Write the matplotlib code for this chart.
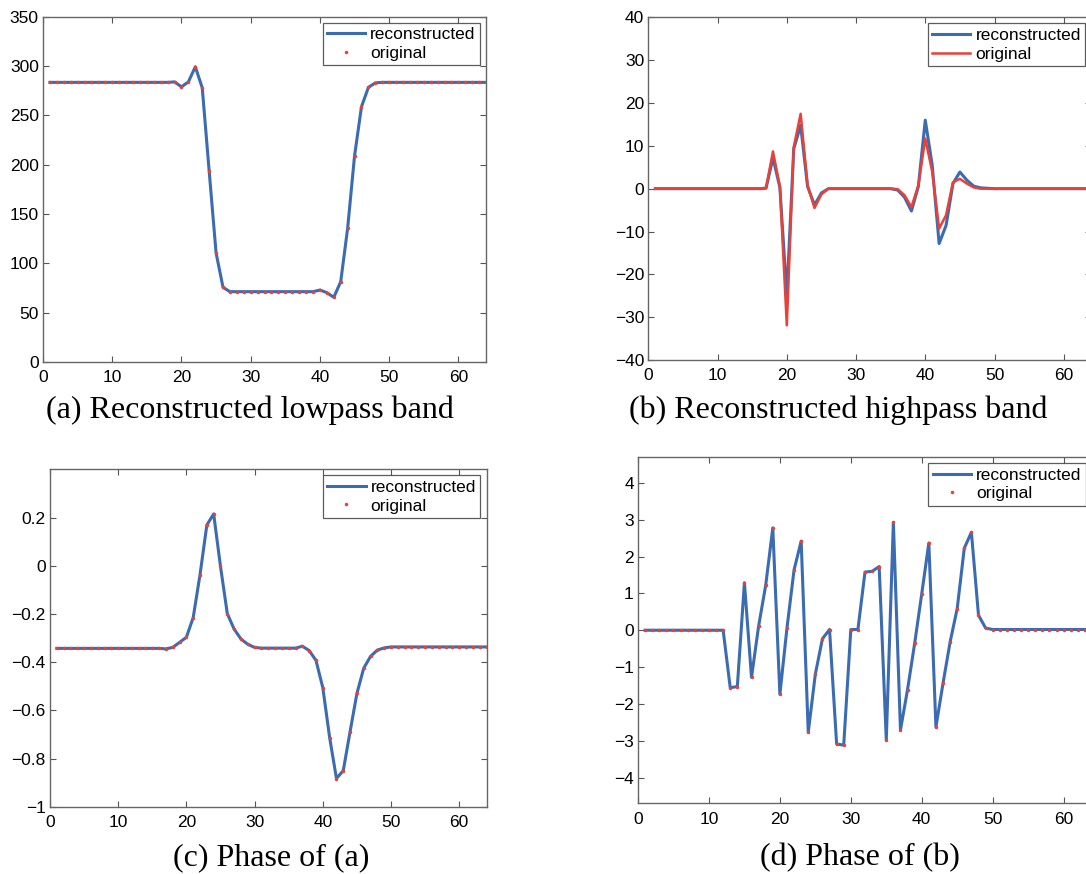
import numpy as np
import matplotlib
matplotlib.use("Agg")
import matplotlib.pyplot as plt

plt.rcParams["font.family"] = ["Liberation Sans", "DejaVu Sans"]

x = np.arange(1, 65)

# (a) lowpass band
low_rec = [283.5]*18 + [284, 279, 284, 299.3, 278, 193.6, 110.5, 75.7, 71.3] + [71.3]*12 + \
          [73, 70.3, 65.6, 81.4, 135.5, 209, 258.8, 278.4, 283] + [283.5]*16
low_orig = list(low_rec)

# (b) highpass band
high_orig = [0]*16 + [0.2, 8.7, 0.5, -31.9, 9.7, 17.5, 0.8, -4.5, -1.3, 0] + [0]*9 + \
            [-0.1, -1.5, -4.3, 0.8, 11.7, 4.0, -9.3, -6.2, 1.5, 2.3, 1.2, 0.3, 0] + [0]*16
high_rec = [0]*16 + [0.1, 7.2, 0.3, -25.0, 9.3, 14.8, 0.5, -3.8, -1.0, 0] + [0]*9 + \
           [-0.3, -2.0, -5.2, 0.5, 16.0, 5.5, -12.8, -8.6, 1.2, 3.9, 2.0, 0.6, 0.2] + [0.1] + [0]*15

# (c) phase of (a)
phase_a = [-0.343]*16 + [-0.345, -0.339, -0.318, -0.297, -0.215, -0.037, 0.169, 0.215,
          -0.003, -0.199, -0.263, -0.304, -0.326, -0.339] + [-0.342]*6 + \
          [-0.334, -0.352, -0.393, -0.506, -0.713, -0.883, -0.85, -0.688, -0.53, -0.425,
           -0.376, -0.35, -0.341] + [-0.337]*15

# (d) phase of (b)
phase_b = [0]*12 + [-1.56, -1.53, 1.29, -1.28, 0.11, 1.22, 2.78, -1.74, 0.06, 1.64, 2.42,
          -2.77, -1.19, -0.23, 0.02, -3.09, -3.12, 0.02, 0.02, 1.58, 1.6, 1.73, -2.98,
          2.93, -2.71, -1.61, -0.36, 0.99, 2.37, -2.63, -1.44, -0.32, 0.59, 2.23, 2.66,
          0.41, 0.06, 0.02] + [0.02]*14

blue = "#3b6bb0"
red = "#e8413a"

fig = plt.figure(figsize=(10.86, 8.74), dpi=100)
fig.patch.set_facecolor("white")

def style(ax):
    ax.tick_params(direction="in", top=True, right=True, length=4, width=0.8,
                   labelsize=12.5, colors="#555555", labelcolor="black")
    ax.tick_params(axis="y", pad=3)
    ax.tick_params(axis="x", pad=6)
    for s in ax.spines.values():
        s.set_color("#666666")
        s.set_linewidth(1.0)
    ax.set_xlim(0, 64)
    ax.set_xticks([0, 10, 20, 30, 40, 50, 60])

def legend(ax):
    leg = ax.legend(loc="upper right", fontsize=12.5, frameon=True, fancybox=False,
                    edgecolor="#333333", borderaxespad=0.35, handlelength=2.2,
                    handletextpad=0.3, borderpad=0.25, labelspacing=0.2)
    leg.get_frame().set_linewidth(0.9)

# (a)
ax1 = fig.add_axes([0.0396, 0.5858, 0.408, 0.395])
ax1.plot(x, low_rec, color=blue, lw=2.2, label="reconstructed")
ax1.plot(x, low_orig, ".", color=red, ms=3, label="original")
ax1.set_ylim(0, 350)
ax1.set_yticks(range(0, 351, 50))
style(ax1)
legend(ax1)

# (b)
ax2 = fig.add_axes([0.597, 0.5881, 0.408, 0.392])
ax2.plot(x, high_rec, color=blue, lw=2.2, label="reconstructed")
ax2.plot(x, high_orig, color=red, lw=1.8, label="original")
ax2.set_ylim(-40, 40)
ax2.set_yticks(range(-40, 41, 10))
style(ax2)
legend(ax2)

# (c)
ax3 = fig.add_axes([0.046, 0.077, 0.402, 0.386])
ax3.plot(x, phase_a, color=blue, lw=2.2, label="reconstructed")
ax3.plot(x, phase_a, ".", color=red, ms=3, label="original")
ax3.set_ylim(-1, 0.4)
ax3.set_yticks([-1, -0.8, -0.6, -0.4, -0.2, 0, 0.2])
ax3.set_yticklabels(["\u22121", "\u22120.8", "\u22120.6", "\u22120.4", "\u22120.2", "0", "0.2"])
style(ax3)
legend(ax3)

# (d)
ax4 = fig.add_axes([0.5875, 0.0809, 0.418, 0.396])
ax4.plot(x, phase_b, color=blue, lw=2.2, label="reconstructed")
ax4.plot(x, phase_b, ".", color=red, ms=3, label="original")
ax4.set_ylim(-4.7, 4.7)
ax4.set_yticks(range(-4, 5))
style(ax4)
legend(ax4)

cap = dict(ha="center", va="center", fontsize=23, family=["Liberation Serif", "DejaVu Serif"])
fig.text(250 / 1086, 1 - 410 / 874, "(a) Reconstructed lowpass band", **cap)
fig.text(838 / 1086, 1 - 410 / 874, "(b) Reconstructed highpass band", **cap)
fig.text(271 / 1086, 1 - 858 / 874, "(c) Phase of (a)", **cap)
fig.text(860 / 1086, 1 - 858 / 874, "(d) Phase of (b)", **cap)

plt.savefig("out.png", dpi=100)
